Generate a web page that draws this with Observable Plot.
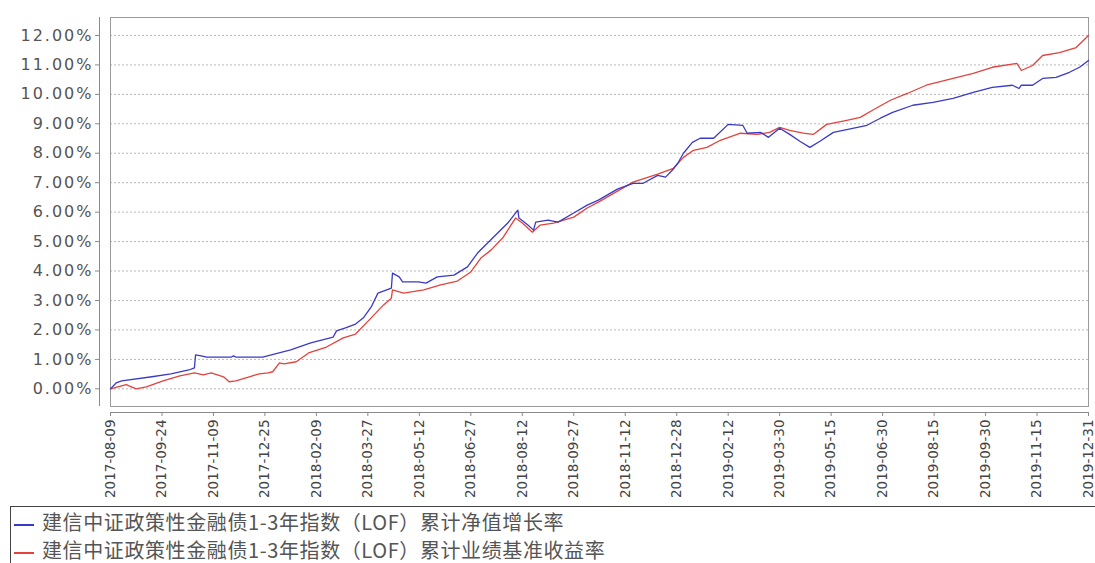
<!DOCTYPE html>
<html>
<head>
<meta charset="utf-8">
<script src="https://cdn.jsdelivr.net/npm/d3@7"></script>
<script src="https://cdn.jsdelivr.net/npm/@observablehq/plot@0.6"></script>
<style>
  html, body { margin: 0; padding: 0; background: #fff; width: 1095px; height: 563px; overflow: hidden; position: relative; }
  #chart svg g[aria-label="y-axis tick label"] text { letter-spacing: 2px; }
  #legend { position: absolute; left: 10px; top: 506px; width: 1200px; height: 90px; border: 1px solid #444;
            font-family: "Noto Sans CJK SC", "Noto Sans", sans-serif; font-size: 20px; letter-spacing: 0.6px; color: #555; padding-top: 1px; box-sizing: border-box; }
  #legend .row { height: 27px; line-height: 27px; white-space: nowrap; margin-bottom: 1px; }
  #legend .mk { display: inline-block; width: 20px; height: 2px; vertical-align: middle; margin-left: 3px; margin-right: 8px; }
</style>
</head>
<body>
<div id="chart"></div>
<div id="legend"></div>
<script>
const seriesNames = [
  "建信中证政策性金融债1-3年指数（LOF）累计净值增长率",
  "建信中证政策性金融债1-3年指数（LOF）累计业绩基准收益率"
];
const seriesColors = ["#3a3ac8", "#e4423c"];

const xTickLabels = ["2017-08-09","2017-09-24","2017-11-09","2017-12-25","2018-02-09","2018-03-27","2018-05-12","2018-06-27","2018-08-12","2018-09-27","2018-11-12","2018-12-28","2019-02-12","2019-03-30","2019-05-15","2019-06-30","2019-08-15","2019-09-30","2019-11-15","2019-12-31"];
const yTickValues = [0,1,2,3,4,5,6,7,8,9,10,11,12];

const navDates = ["2017-08-09","2017-08-14","2017-08-19","2017-09-15","2017-10-02","2017-10-18","2017-10-23","2017-10-24","2017-10-29","2017-11-03","2017-11-25","2017-11-27","2017-11-29","2017-12-23","2018-01-17","2018-02-04","2018-02-24","2018-02-27","2018-03-07","2018-03-16","2018-03-23","2018-03-30","2018-04-05","2018-04-17","2018-04-18","2018-04-24","2018-04-27","2018-05-11","2018-05-18","2018-05-28","2018-06-12","2018-06-24","2018-07-03","2018-07-12","2018-07-21","2018-07-30","2018-08-08","2018-08-09","2018-08-17","2018-08-22","2018-08-24","2018-09-04","2018-09-13","2018-09-27","2018-10-09","2018-10-19","2018-11-05","2018-11-19","2018-11-28","2018-12-11","2018-12-18","2018-12-24","2018-12-29","2019-01-03","2019-01-11","2019-01-18","2019-01-30","2019-02-12","2019-02-25","2019-03-01","2019-03-13","2019-03-20","2019-03-30","2019-04-08","2019-04-17","2019-04-26","2019-05-05","2019-05-17","2019-05-30","2019-06-16","2019-06-28","2019-07-09","2019-07-27","2019-08-14","2019-09-01","2019-09-19","2019-10-06","2019-10-24","2019-10-30","2019-11-01","2019-11-11","2019-11-20","2019-12-02","2019-12-14","2019-12-23","2019-12-31"];
const navValues = [0.00,0.20,0.27,0.41,0.51,0.64,0.71,1.15,1.12,1.08,1.08,1.12,1.08,1.08,1.32,1.56,1.76,1.97,2.07,2.20,2.41,2.78,3.25,3.42,3.93,3.80,3.63,3.63,3.59,3.80,3.86,4.14,4.61,4.95,5.29,5.63,6.07,5.80,5.56,5.39,5.66,5.73,5.66,5.97,6.24,6.41,6.78,6.98,6.98,7.25,7.19,7.42,7.66,8.00,8.37,8.51,8.51,8.98,8.95,8.68,8.71,8.54,8.85,8.64,8.41,8.20,8.41,8.71,8.81,8.95,9.19,9.39,9.63,9.73,9.86,10.07,10.24,10.31,10.20,10.31,10.31,10.54,10.58,10.75,10.92,11.15];

const benchDates = ["2017-08-09","2017-08-23","2017-09-01","2017-09-10","2017-09-25","2017-10-10","2017-10-23","2017-10-31","2017-11-07","2017-11-18","2017-11-23","2017-11-29","2017-12-11","2017-12-20","2017-12-28","2018-01-01","2018-01-07","2018-01-11","2018-01-22","2018-02-02","2018-02-18","2018-03-05","2018-03-16","2018-03-30","2018-04-10","2018-04-17","2018-04-18","2018-04-28","2018-05-16","2018-05-31","2018-06-15","2018-06-27","2018-07-06","2018-07-15","2018-07-26","2018-08-06","2018-08-12","2018-08-21","2018-08-28","2018-09-09","2018-09-27","2018-10-09","2018-10-19","2018-11-19","2018-12-11","2018-12-25","2019-01-03","2019-01-12","2019-01-24","2019-02-05","2019-02-23","2019-03-10","2019-03-21","2019-03-30","2019-04-08","2019-04-20","2019-04-29","2019-05-11","2019-05-29","2019-06-10","2019-06-21","2019-07-07","2019-07-22","2019-08-08","2019-09-01","2019-09-19","2019-10-06","2019-10-28","2019-11-01","2019-11-11","2019-11-20","2019-12-05","2019-12-20","2019-12-31"];
const benchValues = [0.00,0.14,0.00,0.07,0.27,0.44,0.54,0.47,0.54,0.41,0.24,0.27,0.41,0.51,0.54,0.58,0.88,0.85,0.92,1.22,1.42,1.73,1.86,2.41,2.85,3.08,3.36,3.25,3.36,3.53,3.66,3.97,4.44,4.71,5.15,5.80,5.63,5.32,5.56,5.63,5.83,6.14,6.34,7.02,7.29,7.49,7.86,8.10,8.20,8.44,8.68,8.64,8.71,8.88,8.78,8.68,8.64,8.98,9.12,9.22,9.46,9.80,10.03,10.31,10.54,10.71,10.92,11.05,10.81,10.98,11.32,11.42,11.59,12.00];

const parse = d3.utcParse("%Y-%m-%d");
const fmt = d3.utcFormat("%Y-%m-%d");
const navData = navDates.map((d, i) => ({date: parse(d), value: navValues[i]}));
const benchData = benchDates.map((d, i) => ({date: parse(d), value: benchValues[i]}));
const xTicks = xTickLabels.map(parse);
const xDomain = [xTicks[0], xTicks[xTicks.length - 1]];
const yDomain = [-0.6, 12.61];

const chart = Plot.plot({
  width: 1095,
  height: 505,
  marginLeft: 110,
  marginRight: 7,
  marginTop: 17,
  marginBottom: 99,
  style: {fontFamily: "DejaVu Sans", color: "#555", background: "#fff"},
  x: {type: "utc", domain: xDomain},
  y: {domain: yDomain},
  marks: [
    Plot.gridY(yTickValues, {stroke: "#b8b8b8", strokeOpacity: 1, strokeDasharray: "2,2"}),
    Plot.frame({stroke: "#9a9a9a"}),
    Plot.line(benchData, {x: "date", y: "value", stroke: seriesColors[1], strokeWidth: 1.3}),
    Plot.line(navData, {x: "date", y: "value", stroke: seriesColors[0], strokeWidth: 1.3}),
    Plot.ruleX([xDomain[0]], {dx: -11, stroke: "#8a8a8a"}),
    Plot.ruleY([yDomain[0]], {dy: 6, stroke: "#8a8a8a"}),
    Plot.axisY(yTickValues, {tickFormat: d => d.toFixed(2) + "%", dx: -11, tickSize: 4, tickPadding: 2, fontSize: 16, stroke: "#8a8a8a", fill: "#555", label: null}),
    Plot.axisX(xTicks, {tickFormat: d => fmt(d), tickRotate: -90, dy: 6, tickSize: 4, tickPadding: 3, fontSize: 13.5, stroke: "#8a8a8a", fill: "#444", label: null})
  ]
});
document.getElementById("chart").appendChild(chart);

const legend = document.getElementById("legend");
seriesNames.forEach((name, i) => {
  const row = document.createElement("div");
  row.className = "row";
  const mk = document.createElement("span");
  mk.className = "mk";
  mk.style.background = seriesColors[i];
  row.appendChild(mk);
  row.appendChild(document.createTextNode(name));
  legend.appendChild(row);
});
</script>
</body>
</html>
